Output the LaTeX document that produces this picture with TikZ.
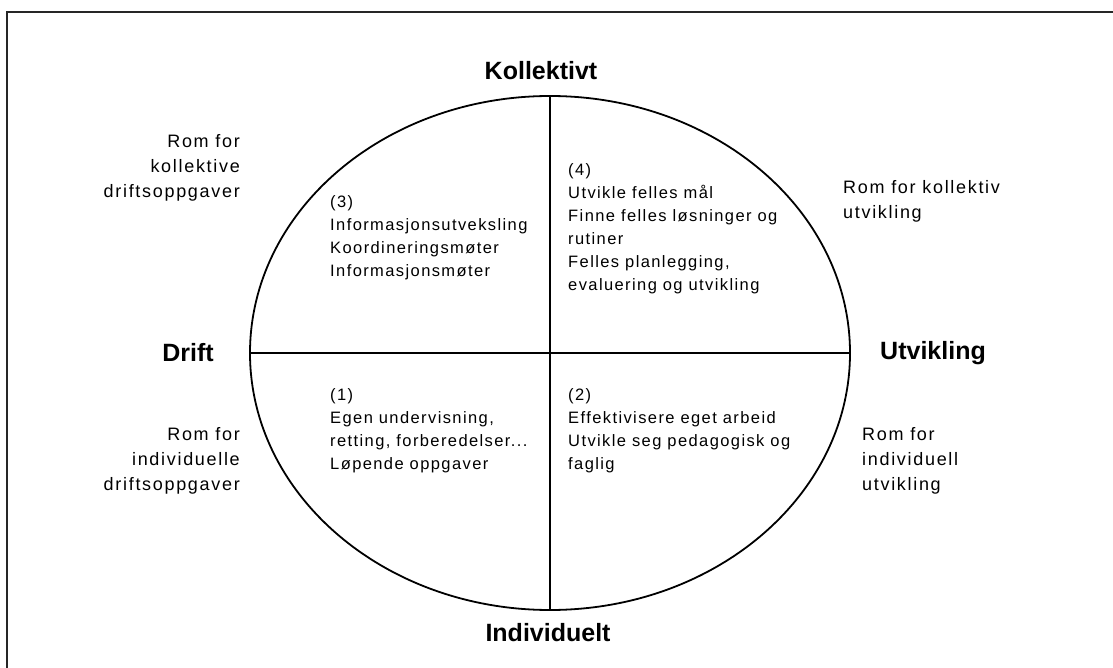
\documentclass[tikz,border=0pt]{standalone}
\usepackage{fontspec}
\setmainfont{Liberation Sans}
\newfontfamily\quadfont[LetterSpace=8.5]{Liberation Sans}
\newfontfamily\roomfont[LetterSpace=9.4]{Liberation Sans}
\usetikzlibrary{shapes.geometric}
\begin{document}
\begin{tikzpicture}[x=1pt,y=-1pt,
  axislabel/.style={font=\fontsize{25}{28}\selectfont\bfseries, inner sep=0pt},
  quadtext/.style={font=\quadfont\fontsize{16.5}{23}\selectfont, align=left, anchor=north west, inner sep=0pt},
  roomtext/.style={font=\roomfont\fontsize{18}{25}\selectfont, inner sep=0pt},
  frameline/.style={line width=2pt, draw=black!85},
  figline/.style={line width=1.8pt, draw=black}]
\useasboundingbox (0,0) rectangle (1113,668);
% outer frame (top and left edges visible)
\draw[frameline] (7,668) -- (7,12) -- (1113,12);
% circle of work spaces
\node (circ) [ellipse, minimum width=600pt, minimum height=514pt, draw, line width=1.8pt, inner sep=0pt] at (550,353) {};
\draw[figline] (circ.north) -- (circ.south);
\draw[figline] (circ.west) -- (circ.east);
% axis labels
\node[axislabel] (top) at (541,71) {Kollektivt};
\node[axislabel] (bottom) at (548,633) {Individuelt};
\node[axislabel] (left) at (188,353) {Drift};
\node[axislabel] (right) at (933,353) {Utvikling};
% quadrants
\node[quadtext] (q3) at (330,195) {(3)\\Informasjonsutveksling\\Koordineringsmøter\\Informasjonsmøter};
\node[quadtext] (q4) at (568,163) {(4)\\Utvikle felles mål\\Finne felles løsninger og\\rutiner\\Felles planlegging,\\evaluering og utvikling};
\node[quadtext] (q1) at (330,388) {(1)\\Egen undervisning,\\retting, forberedelser...\\Løpende oppgaver};
\node[quadtext] (q2) at (568,388) {(2)\\Effektivisere eget arbeid\\Utvikle seg pedagogisk og\\faglig};
% rooms outside the circle
\node[roomtext, align=right, anchor=east] (r3) at (240,168) {Rom for\\kollektive\\driftsoppgaver};
\node[roomtext, align=left, anchor=west] (r4) at (843,201) {Rom for kollektiv\\utvikling};
\node[roomtext, align=right, anchor=east] (r1) at (240,461) {Rom for\\individuelle\\driftsoppgaver};
\node[roomtext, align=left, anchor=west] (r2) at (862,461) {Rom for\\individuell\\utvikling};
\end{tikzpicture}
\end{document}
